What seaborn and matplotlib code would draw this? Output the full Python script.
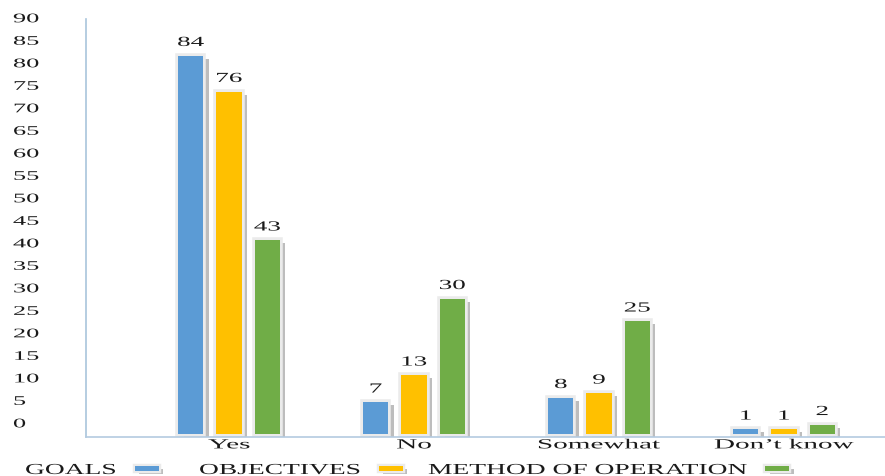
import matplotlib
matplotlib.use("Agg")
import matplotlib.pyplot as plt
import matplotlib.patheffects as pe
from matplotlib.patches import Rectangle
from matplotlib.transforms import Affine2D
import pandas as pd
import seaborn as sns

# ---- data -------------------------------------------------------------
categories = ["Yes", "No", "Somewhat", "Don’t know"]
series_names = ["GOALS", "OBJECTIVES", "METHOD OF OPERATION"]
goals = [84, 7, 8, 1]
objectives = [76, 13, 9, 1]
method = [43, 30, 25, 2]
y_ticks = list(range(0, 95, 5))

colors = ["#5B9BD5", "#FFC000", "#70AD47"]

df = pd.DataFrame({
    "response": categories * 3,
    "count": goals + objectives + method,
    "item": sum([[n] * len(categories) for n in series_names], []),
})


class StretchX(pe.AbstractPathEffect):
    """Draw text glyphs widened horizontally (optionally shifted vertically)."""

    def __init__(self, sx, anchor="center", dy=0.0):
        super().__init__()
        self._sx = sx
        self._anchor = anchor
        self._dy = dy

    def draw_path(self, renderer, gc, tpath, affine, rgbFace=None):
        ext = tpath.get_extents()
        if self._anchor == "left":
            cx = 0.0
        elif self._anchor == "right":
            cx = ext.x1
        else:
            cx = 0.5 * (ext.x0 + ext.x1)
        pre = Affine2D().translate(-cx, 0).scale(self._sx, 1).translate(cx, 0)
        post = Affine2D().translate(0, renderer.points_to_pixels(self._dy))
        renderer.draw_path(gc, tpath, pre + affine + post, rgbFace)


def framed(stroke=4.0, offset=(4.0, -2.0)):
    """Drop shadow + pale outer frame, with the bar fill kept on top."""
    return [pe.SimplePatchShadow(offset=offset, shadow_rgbFace="#9a9a9a", alpha=0.65),
            pe.Stroke(linewidth=stroke, foreground="#ebebeb"),
            pe.Normal()]


sns.set_theme(style="white")
plt.rcParams["font.family"] = ["Liberation Serif", "DejaVu Serif"]

W, H = 885, 477
fig = plt.figure(figsize=(W / 100, H / 100), dpi=100)
ax = fig.add_axes([86 / W, 1 - 438 / H, 1 - 86 / W, (438 - 20) / H])

sns.barplot(
    data=df, x="response", y="count", hue="item",
    order=categories, hue_order=series_names, palette=colors,
    saturation=1, width=0.62, gap=0.34, legend=False, ax=ax,
    linewidth=0,
)

for patch in ax.patches:
    patch.set_path_effects(framed())

# value labels above each bar
for cont in ax.containers:
    labels = ax.bar_label(cont, fmt="%g", padding=5, fontsize=10, color="#1a1a1a")
    for t in labels:
        t.set_path_effects([StretchX(1.95, "center")])

ax.set_xlim(-0.773, 3.546)
ax.set_ylim(-0.67, 92.2)
ax.set_yticks(y_ticks)
ax.set_yticklabels([str(v) for v in y_ticks])
ax.set_xlabel("")
ax.set_ylabel("")

ax.tick_params(axis="y", length=0, pad=52.6, labelsize=9.5, labelcolor="#1a1a1a")
ax.tick_params(axis="x", length=0, pad=1.0, labelsize=10, labelcolor="#1a1a1a")
for lab in ax.get_yticklabels():
    lab.set_horizontalalignment("left")
    lab.set_path_effects([StretchX(2.0, "left", dy=8)])
for lab in ax.get_xticklabels():
    lab.set_path_effects([StretchX(2.1, "center")])

for side in ["top", "right"]:
    ax.spines[side].set_visible(False)
ax.spines["left"].set_color("#a9c5dc")
ax.spines["bottom"].set_color("#b4cbe0")
ax.spines["left"].set_linewidth(1.2)
ax.spines["bottom"].set_linewidth(1.2)

# legend row: label followed by a framed colour swatch
renderer = fig.canvas.get_renderer()
text_x = [25, 199, 428]
base_y = 475
sx_leg = 1.8
for name, col, x0 in zip(series_names, colors, text_x):
    t = fig.text(x0 / W, 1 - base_y / H, name, fontsize=11, color="#1a1a1a",
                 ha="left", va="baseline")
    t.set_path_effects([StretchX(sx_leg, "left")])
    w = t.get_window_extent(renderer).width * sx_leg
    bx = x0 + w + 18
    sw = Rectangle((bx / W, 1 - 472 / H), 24 / W, 5 / H, transform=fig.transFigure,
                   facecolor=col, linewidth=0)
    sw.set_path_effects(framed(stroke=3.2, offset=(3.4, -1.8)))
    fig.add_artist(sw)

fig.savefig("out.png", dpi=100)
